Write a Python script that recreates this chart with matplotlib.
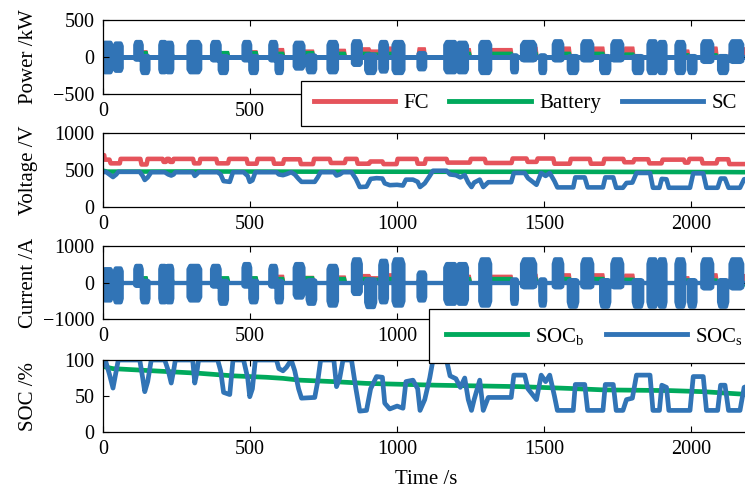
import matplotlib
matplotlib.use('Agg')
import matplotlib.pyplot as plt
from matplotlib.lines import Line2D

plt.rcParams['font.family'] = 'serif'
plt.rcParams['font.serif'] = ['Liberation Serif', 'DejaVu Serif']
plt.rcParams['mathtext.fontset'] = 'custom'
plt.rcParams['mathtext.rm'] = 'Liberation Serif'
plt.rcParams['mathtext.it'] = 'Liberation Serif:italic'

RED = '#E5535B'
GREEN = '#00A95C'
BLUE = '#3174B6'

# SC bursts (start / end time in s) with envelope of power (kW) and current (A)
burst_t0 = [0, 38, 108, 130, 193, 215, 289, 369, 395, 476, 499, 567, 588, 650, 694, 765, 848, 893,
            941, 986, 1071, 1162, 1204, 1281, 1389, 1423, 1485, 1531, 1582, 1628, 1692, 1730, 1803,
            1853, 1889, 1948, 1991, 2036, 2093, 2132]
burst_t1 = [28, 62, 130, 153, 212, 234, 329, 395, 420, 499, 522, 588, 607, 680, 720, 794, 875, 924,
            964, 1020, 1094, 1200, 1236, 1315, 1406, 1468, 1502, 1560, 1611, 1662, 1720, 1764, 1832,
            1880, 1911, 1975, 2013, 2070, 2121, 2172]
sc_p_hi = [200, 190, 210, 20, 210, 200, 210, 210, 20, 210, 20, 210, 20, 200, 30, 210, 220, 40, 210,
           210, 60, 210, 200, 210, 30, 210, 30, 220, 20, 220, 20, 220, 20, 220, 210, 210, 20, 220,
           20, 220]
sc_p_lo = [-200, -180, -30, -210, -200, -200, -200, -40, -210, -40, -210, -40, -210, -150, -200,
           -200, -100, -210, -190, -210, -160, -200, -200, -210, -200, -40, -210, -40, -210, -40,
           -210, -40, -210, -210, -210, -210, -210, -60, -210, -60]
sc_i_hi = [380, 400, 470, 60, 470, 470, 470, 470, 60, 520, 60, 470, 60, 520, 80, 470, 650, 100, 610,
           650, 290, 520, 520, 650, 100, 650, 100, 650, 80, 650, 80, 650, 80, 650, 650, 650, 80, 650,
           80, 650]
sc_i_lo = [-480, -530, -80, -530, -530, -530, -480, -100, -570, -100, -530, -100, -530, -400, -570,
           -620, -300, -660, -530, -620, -480, -570, -570, -620, -570, -120, -620, -120, -650, -120,
           -650, -120, -650, -650, -650, -650, -650, -150, -650, -150]

# FC / battery operating segments
seg_t0 = [0, 6, 26, 60, 131, 152, 206, 217, 228, 240, 310, 331, 389, 429, 492, 526, 582, 616, 673,
          718, 775, 826, 866, 909, 954, 1002, 1070, 1098, 1172, 1251, 1302, 1393, 1444, 1478, 1535,
          1591, 1659, 1705, 1773, 1807, 1858, 1903, 1979, 1994, 2039, 2090, 2130]
seg_t1 = [4, 22, 57, 127, 148, 203, 214, 225, 237, 306, 328, 385, 425, 488, 522, 578, 612, 669, 714,
          771, 822, 862, 905, 950, 998, 1066, 1094, 1168, 1247, 1298, 1389, 1440, 1474, 1531, 1587,
          1655, 1701, 1769, 1803, 1854, 1899, 1975, 1990, 2035, 2086, 2126, 2200]
fc_v = [700, 640, 590, 650, 575, 650, 610, 650, 610, 650, 590, 650, 590, 650, 585, 650, 585, 645,
        580, 650, 595, 650, 585, 615, 580, 650, 585, 650, 600, 650, 595, 655, 610, 655, 585, 650,
        585, 650, 605, 645, 590, 640, 600, 650, 590, 645, 580]
fc_p = [10, 30, 100, 5, 90, 5, 50, 5, 50, 5, 80, 5, 70, 5, 90, 5, 120, 10, 100, 5, 110, 5, 130, 100,
        140, 5, 130, 5, 120, 5, 120, 5, 140, 5, 140, 5, 140, 5, 140, 10, 130, 10, 100, 5, 140, 10,
        130]
fc_i = [20, 50, 170, 10, 160, 10, 90, 10, 90, 10, 140, 10, 120, 10, 160, 10, 210, 20, 180, 10, 190,
        10, 230, 170, 250, 10, 230, 10, 210, 10, 210, 10, 240, 10, 250, 10, 250, 10, 240, 20, 230,
        20, 170, 10, 250, 20, 230]
bat_p = [40, 60, 80, 10, 80, 10, 60, 10, 60, 10, 80, 10, 80, 10, 80, 10, 70, 10, 80, 10, 70, 10, 70,
         60, 70, 10, 70, 10, 70, 10, 70, 10, 70, 10, 70, 10, 70, 10, 60, 10, 60, 10, 50, 5, 50,
         -20, -25]
bat_i = [80, 120, 170, 20, 170, 20, 120, 20, 120, 20, 170, 20, 170, 20, 170, 20, 150, 20, 170, 20,
         150, 20, 150, 130, 150, 20, 150, 20, 150, 20, 150, 20, 150, 20, 150, 20, 150, 20, 130, 20,
         130, 20, 110, 10, 110, -60, -80]

bat_vt = [0, 15, 300, 600, 900, 1200, 1500, 1800, 2100, 2200]
bat_v = [490, 478, 480, 478, 477, 476, 476, 474, 472, 470]

# supercapacitor state
t_sc = [0, 10, 22, 34, 45, 52, 125, 135, 142, 152, 164, 210, 222, 232, 240, 246, 305, 312, 318, 325,
        390, 400, 410, 431, 442, 478, 492, 499, 508, 518, 590, 598, 612, 624, 640, 652, 665, 675,
        720, 730, 740, 785, 794, 805, 816, 845, 860, 873, 896, 910, 930, 950, 958, 975, 1000, 1020,
        1030, 1054, 1070, 1078, 1094, 1111, 1122, 1168, 1180, 1200, 1215, 1230, 1242, 1253, 1262,
        1281, 1293, 1310, 1338, 1388, 1397, 1434, 1445, 1474, 1490, 1505, 1519, 1535, 1545, 1599,
        1606, 1638, 1648, 1700, 1708, 1735, 1745, 1768, 1780, 1800, 1814, 1860, 1870, 1892, 1900,
        1916, 1924, 1996, 2007, 2041, 2052, 2090, 2100, 2115, 2127, 2166, 2180, 2200]
soc_s = [92, 97, 80, 61, 85, 100, 100, 75, 56, 70, 100, 100, 85, 68, 85, 100, 100, 68, 80, 100,
         100, 85, 55, 52, 100, 100, 75, 49, 60, 100, 100, 88, 85, 90, 100, 85, 60, 47, 48, 70, 100,
         100, 63, 75, 100, 100, 60, 29, 30, 60, 77, 76, 40, 32, 36, 33, 70, 72, 60, 30, 45, 75, 100,
         100, 78, 74, 62, 75, 45, 30, 45, 72, 30, 48, 48, 48, 79, 79, 60, 45, 79, 70, 79, 50, 30,
         30, 66, 66, 30, 30, 66, 66, 30, 30, 45, 47, 79, 79, 30, 30, 65, 62, 30, 30, 77, 77, 30,
         30, 65, 65, 30, 30, 62, 65]
v_sc = [470, 475, 440, 405, 440, 475, 475, 420, 365, 400, 470, 470, 440, 425, 440, 470, 470, 420,
        440, 470, 470, 440, 350, 340, 470, 470, 420, 340, 360, 470, 470, 440, 430, 445, 470, 440,
        380, 340, 340, 400, 470, 470, 425, 440, 470, 470, 380, 270, 275, 380, 390, 385, 320, 295,
        300, 290, 370, 370, 340, 270, 320, 420, 490, 490, 440, 430, 400, 430, 330, 270, 330, 370,
        270, 335, 335, 335, 460, 460, 390, 300, 460, 420, 460, 350, 265, 265, 400, 400, 265, 265,
        400, 400, 260, 260, 325, 330, 460, 460, 260, 260, 380, 375, 260, 260, 455, 455, 260, 260,
        385, 385, 260, 260, 375, 380]

socb_t = [0, 34, 125, 215, 329, 442, 556, 612, 669, 782, 896, 1134, 1417, 1587, 1701, 1928, 2041,
          2177, 2200]
soc_b = [91, 88, 86, 84, 81.5, 78, 76, 74.5, 72, 70, 67.5, 65, 63, 60.5, 58.5, 57.5, 56, 52.5, 52]


def envelope(t0, t1, hi, lo):
    # band of the fast SC signal: a block between start and end of each burst, zero in between
    t, up, dn = [0], [0], [0]
    for a, b, h, l in zip(t0, t1, hi, lo):
        r = 0.15 * (b - a)
        t += [a, a, a + r, b - r, b, b]
        up += [0, 0.8 * h, h, h, 0.8 * h, 0]
        dn += [0, 0.8 * l, l, l, 0.8 * l, 0]
    t.append(2200); up.append(0); dn.append(0)
    return t, up, dn


def steps(t0, t1, vals):
    t, y = [], []
    for a, b, v in zip(t0, t1, vals):
        t += [a, b]
        y += [v, v]
    return t, y


fig = plt.figure(figsize=(7.45, 4.94), dpi=100)
W, H = 745.0, 494.0
left, width = 103 / W, (750 - 103) / W
boxes = [(20, 94), (133, 207), (246, 319), (360, 432)]
axes = [fig.add_axes([left, 1 - b / H, width, (b - t) / H]) for t, b in boxes]
ax1, ax2, ax3, ax4 = axes

# power
t, y = steps(seg_t0, seg_t1, fc_p)
ax1.fill_between(t, 0, y, color=RED, edgecolor=RED, lw=1)
t, y = steps(seg_t0, seg_t1, bat_p)
ax1.fill_between(t, 0, y, color=GREEN, edgecolor=GREEN, lw=1)
t, up, dn = envelope(burst_t0, burst_t1, sc_p_hi, sc_p_lo)
ax1.fill_between(t, dn, up, color=BLUE, edgecolor=BLUE, lw=3)
ax1.set_ylim(-500, 500)
ax1.set_yticks([-500, 0, 500])
ax1.set_ylabel('Power /kW')

# voltage
t, y = steps(seg_t0, seg_t1, fc_v)
ax2.plot(t, y, color=RED, lw=3.3)
ax2.plot(bat_vt, bat_v, color=GREEN, lw=3.3)
ax2.plot(t_sc, v_sc, color=BLUE, lw=3.3)
ax2.set_ylim(0, 1000)
ax2.set_yticks([0, 500, 1000])
ax2.set_ylabel('Voltage /V')

# current
t, y = steps(seg_t0, seg_t1, fc_i)
ax3.fill_between(t, 0, y, color=RED, edgecolor=RED, lw=1)
t, y = steps(seg_t0, seg_t1, bat_i)
ax3.fill_between(t, 0, y, color=GREEN, edgecolor=GREEN, lw=1)
t, up, dn = envelope(burst_t0, burst_t1, sc_i_hi, sc_i_lo)
ax3.fill_between(t, dn, up, color=BLUE, edgecolor=BLUE, lw=3)
ax3.set_ylim(-1000, 1000)
ax3.set_yticks([-1000, 0, 1000])
ax3.set_ylabel('Current /A')

# SOC
ax4.plot(socb_t, soc_b, color=GREEN, lw=3.4)
ax4.plot(t_sc, soc_s, color=BLUE, lw=3.4)
ax4.set_ylim(0, 100)
ax4.set_yticks([0, 50, 100])
ax4.set_ylabel('SOC /%')
ax4.set_xlabel('Time /s', fontsize=15, labelpad=8)

for ax in axes:
    ax.set_xlim(0, 2200)
    ax.set_xticks([0, 500, 1000, 1500, 2000])
    ax.tick_params(direction='in', length=4.5, width=0.8, top=True, right=True,
                   labelsize=14.5, pad=6)
    ax.yaxis.label.set_size(15)
    ax.yaxis.set_label_coords(-0.101, 0.5)
    for s in ax.spines.values():
        s.set_linewidth(0.9)

# tick labels that sit under the legends
ax1.set_xticklabels(['0', '500', '', '', ''])
ax3.set_xticklabels(['0', '500', '1000', '', ''])

ax3.set_zorder(3)
ax1.set_zorder(3)

h1 = [Line2D([], [], color=c, lw=3.5) for c in (RED, GREEN, BLUE)]
leg1 = ax1.legend(h1, ['FC', 'Battery', 'SC'], ncol=3, loc='upper left',
                  bbox_to_anchor=(301 / W, 1 - 81 / H), bbox_transform=fig.transFigure,
                  fontsize=15, fancybox=False, framealpha=1, edgecolor='black',
                  handlelength=3.9, handletextpad=0.4, columnspacing=1.0,
                  borderpad=0.6, borderaxespad=0)
leg1.get_frame().set_linewidth(0.9)

h3 = [Line2D([], [], color=c, lw=3.5) for c in (GREEN, BLUE)]
leg3 = ax3.legend(h3, [r'SOC$_\mathrm{b}$', r'SOC$_\mathrm{s}$'], ncol=2, loc='upper left',
                  bbox_to_anchor=(429 / W, 1 - 309 / H), bbox_transform=fig.transFigure,
                  fontsize=15, fancybox=False, framealpha=1, edgecolor='black',
                  handlelength=3.9, handletextpad=0.4, columnspacing=1.0,
                  borderpad=0.8, borderaxespad=0)
leg3.get_frame().set_linewidth(0.9)

fig.savefig('out.png', dpi=100)
